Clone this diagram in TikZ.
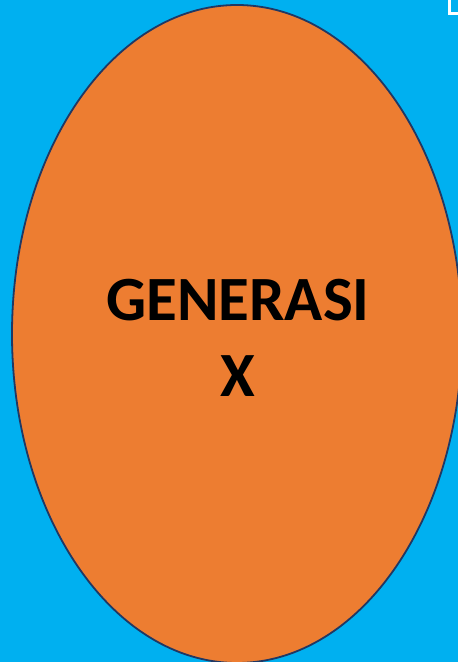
\documentclass[tikz,border=0pt]{standalone}
\usepackage{fontspec}
\setmainfont{Carlito}
\definecolor{bgcyan}{HTML}{00B0F0}
\definecolor{eorange}{HTML}{ED7D31}
\definecolor{edgeblue}{HTML}{203864}
\tikzset{
  blob/.style={fill=eorange, draw=edgeblue, line width=1.8pt},
  title/.style={font=\bfseries\fontsize{63}{76}\selectfont, align=center, text=black, inner sep=0pt}
}
\begin{document}
\begin{tikzpicture}[x=1pt,y=1pt]
\useasboundingbox (0,0) rectangle (458,662);
\fill[bgcyan] (0,0) rectangle (458,662);
\begin{scope}
\clip (0,0) rectangle (458,662);
\draw[blob] (237,328) ellipse [x radius=225, y radius=329];
\fill[white] (448,662) rectangle (451,647);
\fill[white] (448,650) rectangle (458,647);
\end{scope}
\node[title] (gen) at (238,324) {GENERASI\\X};
\end{tikzpicture}
\end{document}
